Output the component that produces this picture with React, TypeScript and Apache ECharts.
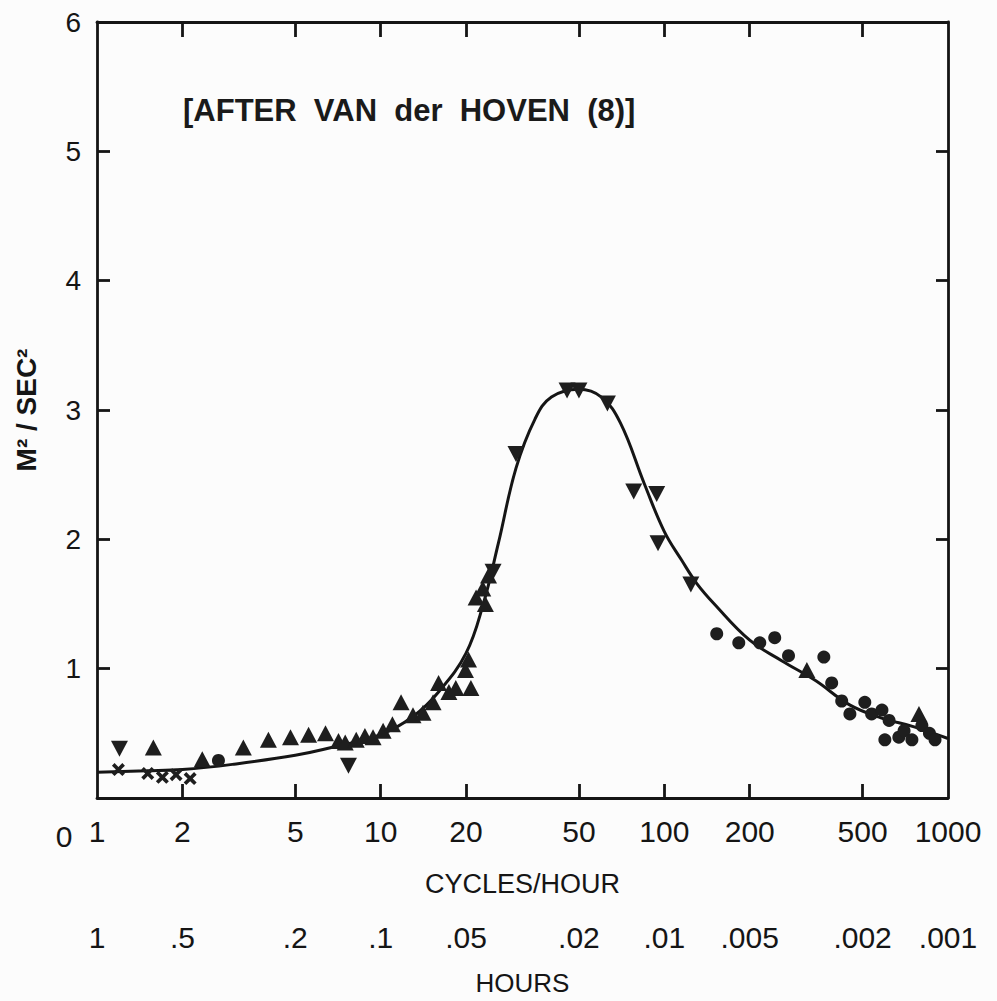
import React, { useEffect, useRef } from "react";
import * as echarts from "echarts";

// ---- axis ticks / labels ----
const cycleTicks = [1, 2, 5, 10, 20, 50, 100, 200, 500, 1000];
const innerTicks = [2, 5, 10, 20, 50, 100, 200, 500];
const hourLabels = ["1", ".5", ".2", ".1", ".05", ".02", ".01", ".005", ".002", ".001"];
const yInnerTicks = [1, 2, 3, 4, 5];

// ---- fitted curve (cycles/hour, m²/sec²) ----
const curveFreq = [1, 1.5, 2, 3, 5, 7, 10, 13, 16, 20, 23, 26, 30, 35, 40, 50, 60, 70, 85, 100, 115, 130, 150, 200, 260, 340, 450, 580, 760, 1000];
const curveVal = [0.2, 0.21, 0.22, 0.26, 0.33, 0.4, 0.49, 0.63, 0.82, 1.12, 1.5, 1.97, 2.55, 2.93, 3.1, 3.16, 3.1, 2.9, 2.43, 2.06, 1.84, 1.66, 1.5, 1.22, 1.06, 0.91, 0.72, 0.62, 0.55, 0.46];

// ---- observations ----
const upTriFreq = [1.58, 2.35, 3.28, 4.02, 4.81, 5.57, 6.39, 7.1, 7.5, 8.2, 8.8, 9.4, 10.2, 11.0, 11.8, 13.0, 14.1, 15.3, 16.0, 17.4, 18.4, 19.9, 20.8, 20.4, 21.7, 22.9, 24.0, 23.4, 318, 790];
const upTriVal = [0.39, 0.3, 0.39, 0.45, 0.47, 0.49, 0.5, 0.44, 0.43, 0.45, 0.48, 0.47, 0.52, 0.57, 0.74, 0.64, 0.66, 0.74, 0.89, 0.82, 0.85, 0.99, 0.85, 1.07, 1.55, 1.62, 1.72, 1.5, 0.99, 0.65];

const downTriFreq = [1.2, 7.7, 24.9, 30, 45.4, 50, 63, 78, 94, 95, 124];
const downTriVal = [0.38, 0.25, 1.75, 2.66, 3.15, 3.15, 3.05, 2.37, 2.35, 1.97, 1.65];

const crossFreq = [1.19, 1.51, 1.7, 1.9, 2.13];
const crossVal = [0.22, 0.19, 0.16, 0.18, 0.15];

const circleFreq = [2.68, 153, 183, 217, 245, 274, 365, 389, 422, 451, 509, 538, 585, 599, 620, 671, 700, 746, 809, 860, 900];
const circleVal = [0.29, 1.27, 1.2, 1.2, 1.24, 1.1, 1.09, 0.89, 0.75, 0.65, 0.74, 0.65, 0.68, 0.45, 0.6, 0.47, 0.52, 0.45, 0.56, 0.5, 0.45];

const pairs = (xs: number[], ys: number[]) => xs.map((x, i) => [x, ys[i]]);

const INK = "#151515";
const MARK = "#1e1e1e";
const NARROW = "'Liberation Sans Narrow', 'Liberation Sans', Arial, sans-serif";
const SANS = "'Liberation Sans', Arial, sans-serif";
const CROSS = "path://M2,0 L5,3 L8,0 L10,2 L7,5 L10,8 L8,10 L5,7 L2,10 L0,8 L3,5 L0,2 Z";

function tickIndex(v: number) {
  for (let i = 0; i < cycleTicks.length; i++) {
    if (Math.abs(Math.log10(v) - Math.log10(cycleTicks[i])) < 1e-6) return i;
  }
  return -1;
}
const cycleFormatter = (v: number) => { const i = tickIndex(v); return i < 0 ? "" : String(cycleTicks[i]); };
const hourFormatter = (v: number) => { const i = tickIndex(v); return i < 0 ? "" : hourLabels[i]; };

export default function App() {
  const ref = useRef<HTMLDivElement>(null);
  useEffect(() => {
    if (!ref.current) return;
    const chart = echarts.init(ref.current, undefined, { renderer: "svg" });
    const lineStyle = { color: INK, width: 2.8 };
    const markStyle = { color: MARK, opacity: 1 };
    const option: any = {
      animation: false,
      backgroundColor: "#fcfcfc",
      grid: { left: 97, right: 49, top: 22, bottom: 200, containLabel: false },
      xAxis: [
        {
          type: "log", logBase: 10, min: 1, max: 1000, position: "bottom",
          axisLine: { show: true, lineStyle },
          axisTick: { show: true, inside: true, length: 14, customValues: innerTicks, lineStyle },
          axisLabel: { customValues: cycleTicks, fontSize: 30, margin: 18, color: INK, fontFamily: NARROW, formatter: cycleFormatter },
          splitLine: { show: false },
          name: "CYCLES/HOUR", nameLocation: "middle", nameGap: 72,
          nameTextStyle: { fontSize: 27, color: INK, fontFamily: NARROW },
        },
        {
          type: "log", logBase: 10, min: 1, max: 1000, position: "bottom", offset: 106,
          axisLine: { show: false }, axisTick: { show: false },
          axisLabel: { customValues: cycleTicks, fontSize: 30, margin: 18, color: INK, fontFamily: NARROW, formatter: hourFormatter },
          splitLine: { show: false },
          name: "HOURS", nameLocation: "middle", nameGap: 66,
          nameTextStyle: { fontSize: 26, color: INK, fontFamily: NARROW },
        },
        {
          type: "log", logBase: 10, min: 1, max: 1000, position: "top",
          axisLine: { show: true, lineStyle },
          axisTick: { show: true, inside: true, length: 15, customValues: innerTicks, lineStyle },
          axisLabel: { show: false }, splitLine: { show: false },
        },
      ],
      yAxis: [
        {
          type: "value", min: 0, max: 6, interval: 1, position: "left",
          axisLine: { show: true, lineStyle },
          axisTick: { show: true, inside: true, length: 13, customValues: yInnerTicks, lineStyle },
          axisLabel: { fontSize: 28, margin: 16, color: INK, fontFamily: SANS, showMinLabel: false,
            formatter: (v: number) => (v === 0 ? "" : String(v)) },
          splitLine: { show: false },
          name: "M² / SEC²", nameLocation: "middle", nameGap: 57, nameRotate: 90,
          nameTextStyle: { fontSize: 28, fontWeight: "bold", color: INK, fontFamily: SANS },
        },
        {
          type: "value", min: 0, max: 6, interval: 1, position: "right",
          axisLine: { show: true, lineStyle },
          axisTick: { show: true, inside: true, length: 12, customValues: yInnerTicks, lineStyle },
          axisLabel: { show: false }, splitLine: { show: false },
        },
      ],
      graphic: [
        { type: "text", x: 183, y: 110, style: { text: "[AFTER  VAN  der  HOVEN  (8)]", fontSize: 31, fontWeight: "bold", fontFamily: SANS, fill: "#1a1a1a", verticalAlign: "middle" } },
        { type: "text", x: 64, y: 836, style: { text: "0", fontSize: 30, fontFamily: NARROW, fill: INK, align: "center", verticalAlign: "middle" } },
      ],
      series: [
        {
          type: "line", name: "fit", data: pairs(curveFreq, curveVal), smooth: 0.4, showSymbol: false,
          lineStyle: { color: INK, width: 3 }, z: 3,
        },
        { type: "scatter", name: "up", data: pairs(upTriFreq, upTriVal), symbol: "triangle", symbolSize: [17, 16], itemStyle: markStyle, z: 4 },
        { type: "scatter", name: "down", data: pairs(downTriFreq, downTriVal), symbol: "triangle", symbolRotate: 180, symbolSize: [17, 16], itemStyle: markStyle, z: 4 },
        { type: "scatter", name: "cross", data: pairs(crossFreq, crossVal), symbol: CROSS, symbolSize: 13, itemStyle: markStyle, z: 4 },
        { type: "scatter", name: "circle", data: pairs(circleFreq, circleVal), symbol: "circle", symbolSize: 13, itemStyle: markStyle, z: 4 },
      ],
    };
    chart.setOption(option);
    return () => chart.dispose();
  }, []);
  return <div ref={ref} style={{ position: "fixed", left: 0, top: 0, width: 997, height: 1001, background: "#fcfcfc" }} />;
}
